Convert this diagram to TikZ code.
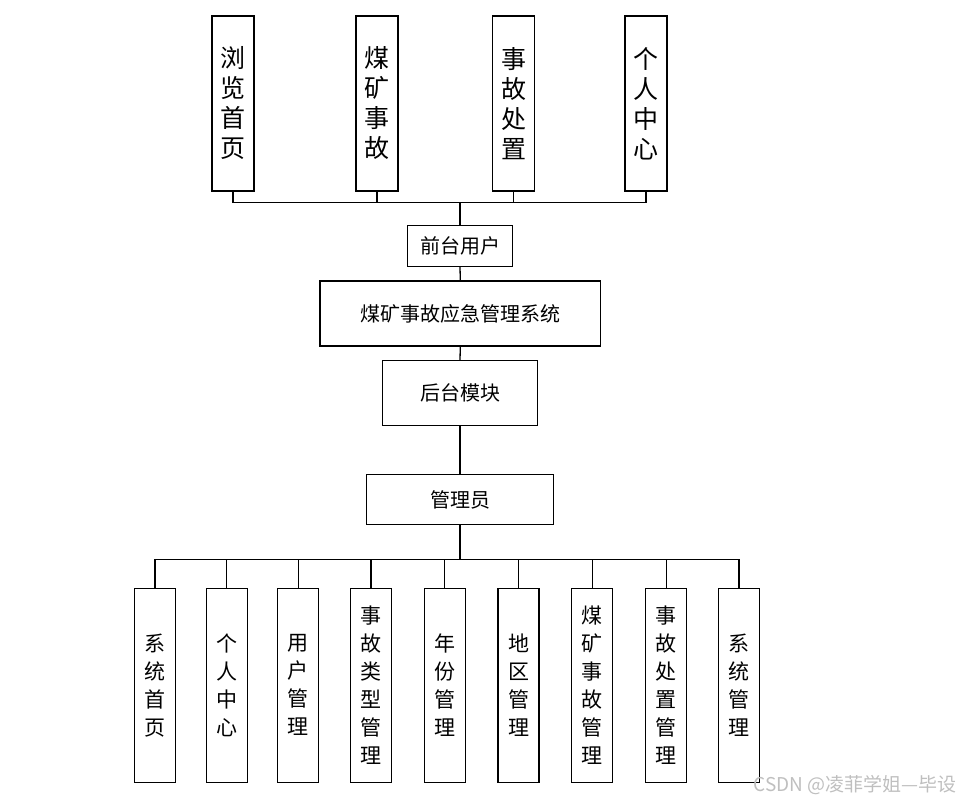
\documentclass[tikz,border=0pt]{standalone}
\usepackage{fontspec}
\newfontfamily\cjk{Noto Sans CJK SC}
\usetikzlibrary{positioning}

\begin{document}
\begin{tikzpicture}[x=1pt,y=-1pt,
  box/.style={draw,line width=1.3pt,fill=white,inner sep=0pt},
  topbox/.style={box,minimum width=42pt,minimum height=175pt,align=center,
    font=\cjk\fontsize{25}{30}\selectfont},
  midbox/.style={box,font=\cjk\fontsize{20}{24}\selectfont},
  lowbox/.style={box,minimum width=41pt,minimum height=194pt,align=center,
    font=\cjk\fontsize{21}{28}\selectfont},
  link/.style={line width=1.3pt}]
  \useasboundingbox (0,0) rectangle (961,803);

  % front end
  \node[topbox] (browse) at (233,103.5) {浏\\览\\首\\页};
  \node[topbox] (accident) at (377,103.5) {煤\\矿\\事\\故};
  \node[topbox] (handle) at (513.5,103.5) {事\\故\\处\\置};
  \node[topbox] (profile) at (646,103.5) {个\\人\\中\\心};
  \node[midbox,minimum width=104.6pt,minimum height=41pt] (front) at (460,245.8) {前台用户};

  % system and back end
  \node[midbox,minimum width=280.7pt,minimum height=65pt] (sys) at (460.3,313.5) {煤矿事故应急管理系统};
  \node[midbox,minimum width=155.4pt,minimum height=65pt] (back) at (460,393.2) {后台模块};
  \node[midbox,minimum width=186.6pt,minimum height=49.6pt] (admin) at (460,499.5) {管理员};

  % admin modules
  \node[lowbox] (m1) at (155,685.3) {系\\统\\首\\页};
  \node[lowbox] (m2) at (226.7,685.3) {个\\人\\中\\心};
  \node[lowbox] (m3) at (298.3,685.3) {用\\户\\管\\理};
  \node[lowbox] (m4) at (371,685.3) {事\\故\\类\\型\\管\\理};
  \node[lowbox] (m5) at (444.7,685.3) {年\\份\\管\\理};
  \node[lowbox] (m6) at (518.5,685.3) {地\\区\\管\\理};
  \node[lowbox] (m7) at (592.3,685.3) {煤\\矿\\事\\故\\管\\理};
  \node[lowbox] (m8) at (666.3,685.3) {事\\故\\处\\置\\管\\理};
  \node[lowbox] (m9) at (739,685.3) {系\\统\\管\\理};

  % connectors
  \coordinate (topbus) at (460,202.7);
  \foreach \n in {browse,accident,handle,profile}
    \draw[link] (\n.south) |- (topbus);
  \draw[link] (topbus) -- (front.north);
  \draw[link] (front.south) -- (sys.north);
  \draw[link] (sys.south) -- (back.north);
  \draw[link] (back.south) -- (admin.north);
  \coordinate (lowbus) at (460,559.7);
  \draw[link] (admin.south) -- (lowbus);
  \foreach \n in {m1,m2,m3,m4,m5,m6,m7,m8,m9}
    \draw[link] (\n.north) |- (lowbus);

  \node[font=\cjk\fontsize{19}{21}\selectfont,text=black!25,anchor=east,inner sep=0pt] (mark) at (957,785) {CSDN @凌菲学姐—毕设};
\end{tikzpicture}
\end{document}
